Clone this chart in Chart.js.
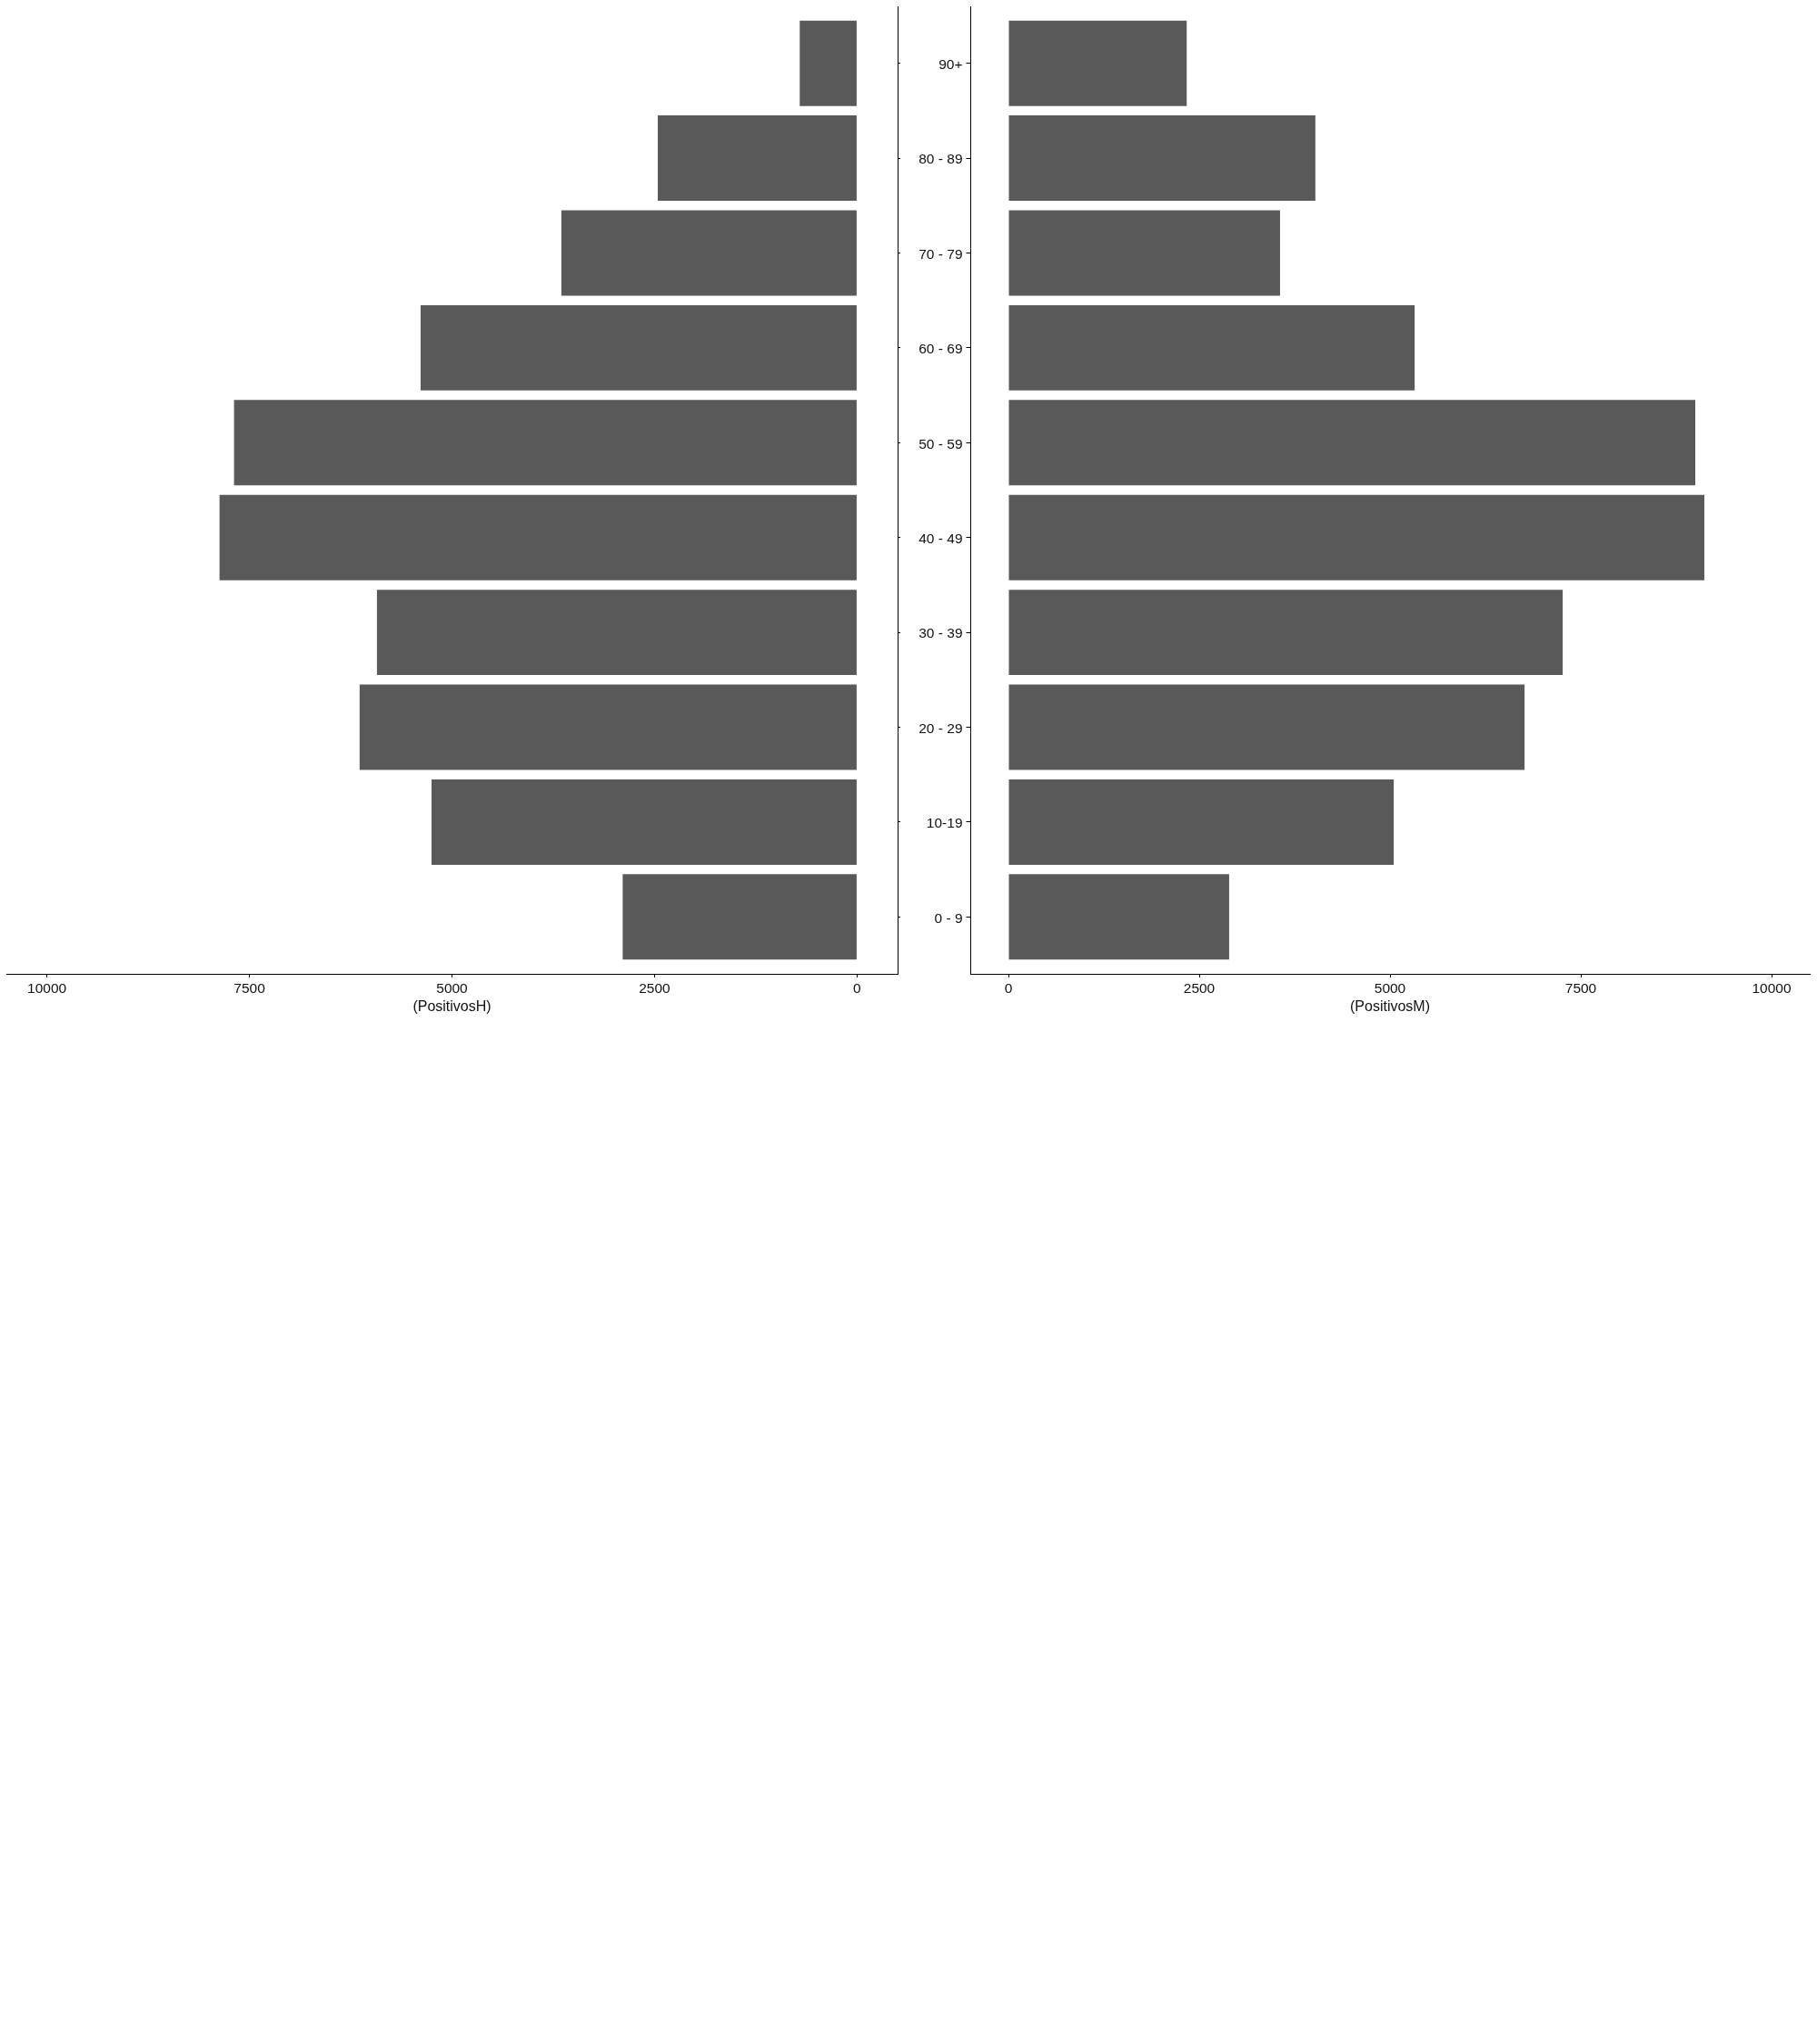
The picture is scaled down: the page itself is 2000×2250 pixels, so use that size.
<!DOCTYPE html>
<html>
<head>
<meta charset="utf-8">
<script src="https://cdn.jsdelivr.net/npm/chart.js"></script>
<style>
  html, body { margin: 0; padding: 0; background: #fff; }
  #wrap { position: relative; width: 2000px; height: 2250px; }
  #chartH { position: absolute; left: 0; top: 0; }
  #chartM { position: absolute; left: 1000px; top: 0; }
</style>
</head>
<body>
<div id="wrap">
  <canvas id="chartH" width="1000" height="1130"></canvas>
  <canvas id="chartM" width="1000" height="1130"></canvas>
</div>
<script>
// age groups, bottom to top
const ages = ['0 - 9', '10-19', '20 - 29', '30 - 39', '40 - 49', '50 - 59', '60 - 69', '70 - 79', '80 - 89', '90+'];
// positives, men (left) and women (right)
const positivosH = [2893, 5252, 6140, 5926, 7869, 7690, 5387, 3650, 2460, 708];
const positivosM = [2892, 5049, 6763, 7263, 9119, 9000, 5323, 3559, 4022, 2336];
const xTicks = [0, 2500, 5000, 7500, 10000];

const barColor = '#595959';
const textColor = '#111';
const font = { family: "'Liberation Sans', Arial, sans-serif", size: 15.5 };

Chart.defaults.font.family = font.family;
Chart.defaults.color = textColor;

function toPoints(values) {
  return values.map((v, i) => ({ x: v, y: i }));
}

function xScale(title, reverse) {
  return {
    type: 'linear',
    reverse,
    min: -500,
    max: 10500,
    afterBuildTicks: axis => { axis.ticks = xTicks.map(v => ({ value: v })); },
    afterFit: axis => { axis.height = 58; },
    grid: { drawOnChartArea: false, drawTicks: true, tickLength: 4, color: '#000' },
    border: { display: true, color: '#000', width: 1 },
    ticks: { color: textColor, font, padding: 3.5, maxRotation: 0, callback: v => String(v) },
    title: { display: true, text: title, color: textColor, font: { ...font, size: 16 }, padding: { top: 11.5, bottom: 11.5 } }
  };
}

function yScale(position, showLabels, width, tickLen) {
  return {
    type: 'linear',
    position,
    offset: false,
    min: -0.6,
    max: 9.6,
    afterBuildTicks: axis => { axis.ticks = ages.map((_, i) => ({ value: i })); },
    afterFit: axis => {
      axis.width = width;
      // labels sit well inside the axis, no extra room needed
      axis.paddingTop = 0;
      axis.paddingBottom = 0;
    },
    grid: { offset: false, drawOnChartArea: false, drawTicks: true, tickLength: tickLen, color: '#000' },
    border: { display: true, color: '#000', width: 1 },
    ticks: {
      display: showLabels,
      color: textColor,
      font,
      padding: 4,
      labelOffset: 2,
      callback: v => ages[v]
    }
  };
}

function makeChart(id, values, title, reverse, yPos, showLabels, yWidth, tickLen, padding) {
  return new Chart(document.getElementById(id), {
    type: 'bar',
    data: {
      datasets: [{
        data: toPoints(values),
        backgroundColor: barColor,
        borderWidth: 0,
        barPercentage: 0.9,
        categoryPercentage: 1
      }]
    },
    options: {
      indexAxis: 'y',
      responsive: false,
      animation: false,
      layout: { padding },
      plugins: { legend: { display: false }, tooltip: { enabled: false } },
      scales: {
        x: xScale(title, reverse),
        y: yScale(yPos, showLabels, yWidth, tickLen)
      }
    }
  });
}

makeChart('chartH', positivosH, '(PositivosH)', true, 'right', false, 12, 3, { left: 7, top: 7, right: 0, bottom: 0 });
makeChart('chartM', positivosM, '(PositivosM)', false, 'left', true, 68, 4.5, { left: 0, top: 7, right: 8, bottom: 0 });
</script>
</body>
</html>
